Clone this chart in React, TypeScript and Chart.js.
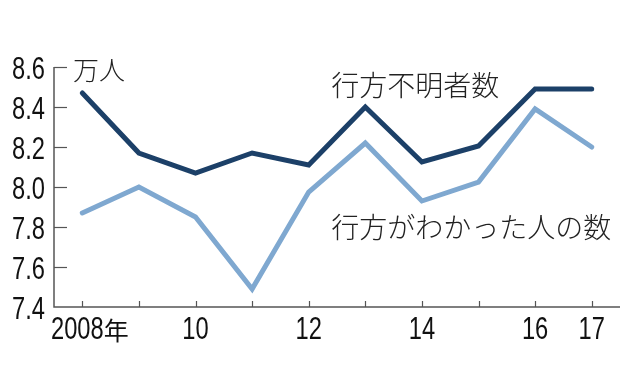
import React, { useEffect, useRef } from "react";
import { Chart, registerables } from "chart.js";

Chart.register(...registerables);

const years = ["2008", "", "10", "", "12", "", "14", "", "16", "17"];
const yearSuffix = "年";
const missingPersons = [8.47, 8.17, 8.07, 8.17, 8.11, 8.40, 8.125, 8.205, 8.49, 8.49];
const foundPersons = [7.87, 8.0, 7.85, 7.49, 7.975, 8.22, 7.93, 8.025, 8.39, 8.2];
const yTicks = [7.4, 7.6, 7.8, 8.0, 8.2, 8.4, 8.6];
const unitLabel = "万人";
const missingLabel = "行方不明者数";
const foundLabel = "行方がわかった人の数";

const NUM_FONT = '"Liberation Sans", Arial, sans-serif';
const JP_FONT = '"Noto Sans CJK JP", "Noto Sans", sans-serif';
const SQUEEZE = 0.74;

function condensedText(ctx: any, text: string, x: number, y: number, align: "left" | "right" | "center") {
  ctx.save();
  ctx.translate(x, y);
  ctx.scale(SQUEEZE, 1);
  ctx.textAlign = align;
  ctx.fillText(text, 0, 0);
  ctx.restore();
}

const axisPlugin = {
  id: "customAxes",
  afterDatasetsDraw(chart: any) {
    const { ctx, chartArea, scales } = chart;
    const x = scales.x;
    const y = scales.y;
    ctx.save();
    ctx.strokeStyle = "#555";
    ctx.lineWidth = 1.5;
    ctx.beginPath();
    ctx.moveTo(chartArea.left, y.getPixelForValue(8.6));
    ctx.lineTo(chartArea.left, chartArea.bottom);
    ctx.lineTo(chartArea.right, chartArea.bottom);
    ctx.stroke();
    ctx.lineWidth = 1.2;
    yTicks.forEach((v) => {
      if (v === 7.4) return;
      const py = Math.round(y.getPixelForValue(v)) + 0.5;
      ctx.beginPath();
      ctx.moveTo(chartArea.left, py);
      ctx.lineTo(chartArea.left + 13, py);
      ctx.stroke();
    });
    years.forEach((_, i) => {
      const px = Math.round(x.getPixelForValue(i)) + 0.5;
      ctx.beginPath();
      ctx.moveTo(px, chartArea.bottom);
      ctx.lineTo(px, chartArea.bottom - 6);
      ctx.stroke();
    });

    // tick labels (condensed, from scale positions)
    ctx.fillStyle = "#111";
    ctx.textBaseline = "alphabetic";
    ctx.font = `32px ${NUM_FONT}`;
    yTicks.forEach((v) => {
      condensedText(ctx, v.toFixed(1), chartArea.left - 9, y.getPixelForValue(v) + 11.5, "right");
    });
    const baseY = chartArea.bottom + 32;
    years.forEach((lab, i) => {
      if (!lab) return;
      const px = x.getPixelForValue(i);
      if (i === 0) {
        ctx.font = `32px ${NUM_FONT}`;
        condensedText(ctx, lab, px - 5, baseY, "center");
        const w = ctx.measureText(lab).width * SQUEEZE;
        ctx.font = `400 25px ${JP_FONT}`;
        ctx.textAlign = "left";
        ctx.fillText(yearSuffix, px - 5 + w / 2, baseY + 1);
      } else {
        ctx.font = `32px ${NUM_FONT}`;
        condensedText(ctx, lab, px, baseY, "center");
      }
    });

    // text annotations anchored in data space
    ctx.fillStyle = "#222";
    ctx.textBaseline = "middle";
    ctx.textAlign = "left";
    ctx.font = `300 26px ${JP_FONT}`;
    ctx.fillText(unitLabel, chartArea.left + 19, y.getPixelForValue(8.6) + 3);
    ctx.font = `300 28px ${JP_FONT}`;
    ctx.fillText(missingLabel, x.getPixelForValue(4.4), y.getPixelForValue(8.51));
    ctx.fillText(foundLabel, x.getPixelForValue(4.4), y.getPixelForValue(7.8));
    ctx.restore();
  },
};

export default function App() {
  const ref = useRef<HTMLCanvasElement>(null);
  useEffect(() => {
    if (!ref.current) return;
    const chart = new Chart(ref.current, {
      type: "line",
      data: {
        labels: years,
        datasets: [
          {
            label: missingLabel,
            data: missingPersons,
            borderColor: "#1c4068",
            borderWidth: 5,
            pointRadius: 0,
            tension: 0,
            borderCapStyle: "round",
            borderJoinStyle: "miter",
          },
          {
            label: foundLabel,
            data: foundPersons,
            borderColor: "#7fa8d0",
            borderWidth: 5,
            pointRadius: 0,
            tension: 0,
            borderCapStyle: "round",
            borderJoinStyle: "miter",
          },
        ],
      },
      options: {
        responsive: false,
        animation: false,
        devicePixelRatio: 1,
        layout: { padding: { left: 0, right: 10, top: 67, bottom: 0 } },
        plugins: { legend: { display: false }, tooltip: { enabled: false } },
        scales: {
          x: {
            type: "category",
            offset: true,
            grid: { display: false, drawTicks: false },
            border: { display: false },
            ticks: { display: false, autoSkip: false, maxRotation: 0 },
            afterFit(scale: any) {
              scale.height = 78;
            },
          },
          y: {
            min: 7.4,
            max: 8.6,
            grid: { display: false, drawTicks: false },
            border: { display: false },
            ticks: { display: false, stepSize: 0.2 },
            afterFit(scale: any) {
              scale.width = 54;
            },
          },
        },
      },
      plugins: [axisPlugin],
    });
    return () => chart.destroy();
  }, []);
  return (
    <div style={{ position: "fixed", left: 0, top: 0, width: 630, height: 385, background: "#fff" }}>
      <canvas ref={ref} width={630} height={385} />
    </div>
  );
}
